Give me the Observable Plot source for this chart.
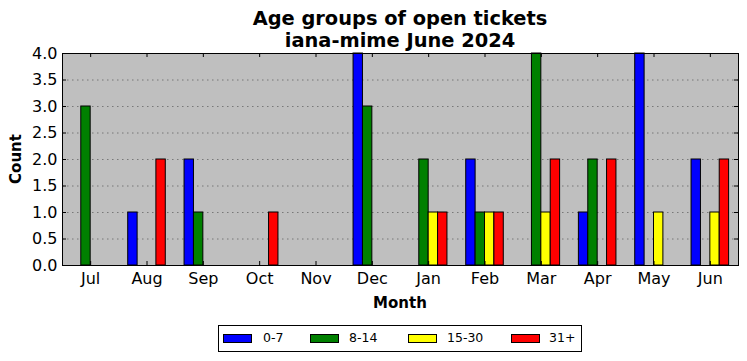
<!DOCTYPE html>
<html>
<head>
<meta charset="utf-8">
<script src="https://cdn.jsdelivr.net/npm/d3@7"></script>
<script src="https://cdn.jsdelivr.net/npm/@observablehq/plot@0.6"></script>
<style>
  html, body { margin: 0; padding: 0; background: #fff; }
  body { width: 747px; height: 361px; position: relative; overflow: hidden; font-family: "DejaVu Sans", sans-serif; color: #000; }
  #chart { position: absolute; left: 0; top: 0; }
  .title { position: absolute; left: 62px; width: 676px; text-align: center; font-weight: bold; font-size: 19.4px; line-height: 22px; top: 8px; }
  .ylabel { position: absolute; left: 16px; top: 159px; transform: translate(-50%, -50%) rotate(-90deg); font-weight: bold; font-size: 15px; white-space: nowrap; }
  .xlabel { position: absolute; left: 400px; top: 303px; transform: translate(-50%, -50%); font-weight: bold; font-size: 15px; }
  .legend { position: absolute; left: 218px; top: 325px; width: 362px; height: 25px; border: 1px solid #000; box-sizing: content-box; }
  .sw { position: absolute; top: 8px; width: 27px; height: 7px; border: 1px solid #000; }
  .lt { position: absolute; top: 4px; font-size: 12.5px; line-height: 16px; white-space: nowrap; }
</style>
</head>
<body>
<div id="chart"></div>
<div class="title">Age groups of open tickets<br>iana-mime June 2024</div>
<div class="ylabel">Count</div>
<div class="xlabel">Month</div>
<div class="legend" id="legend"></div>
<script>
const months = ["Jul","Aug","Sep","Oct","Nov","Dec","Jan","Feb","Mar","Apr","May","Jun"];
const seriesNames = ["0-7","8-14","15-30","31+"];
const seriesColors = ["#0000ff","#008000","#ffff00","#ff0000"];
const age0to7   = [0,1,2,0,0,4,0,2,0,1,4,2];
const age8to14  = [3,0,1,0,0,3,2,1,4,2,0,0];
const age15to30 = [0,0,0,0,0,0,1,1,1,0,1,1];
const age31plus = [0,2,0,1,0,0,1,1,2,2,0,2];
const yTicks = [0,0.5,1,1.5,2,2.5,3,3.5,4];

const seriesValues = [age0to7, age8to14, age15to30, age31plus];
const table = [];
months.forEach((m, i) => {
  seriesNames.forEach((s, k) => {
    table.push({i, k, series: s, value: seriesValues[k][i]});
  });
});

const W = 747, H = 361, mT = 53, mB = 96, mL = 62, mR = 9;
const plotW = W - mL - mR, plotH = H - mT - mB;
const xMin = -0.5, xMax = months.length - 0.5, yMax = 4;
const tickPx = 4;
const tx = tickPx * (xMax - xMin) / plotW;
const ty = tickPx * yMax / plotH;
const barW = 1 / 6;

const chart = Plot.plot({
  width: W, height: H,
  marginTop: mT, marginBottom: mB, marginLeft: mL, marginRight: mR,
  style: {color: "#000", fontFamily: "DejaVu Sans, sans-serif", background: "transparent"},
  x: {domain: [xMin, xMax], axis: null, label: null},
  y: {domain: [0, yMax], axis: null, label: null},
  color: {domain: seriesNames, range: seriesColors},
  marks: [
    Plot.frame({fill: "#bfbfbf", stroke: null}),
    Plot.gridY(yTicks, {stroke: "#666", strokeOpacity: 1, strokeWidth: 0.8, strokeDasharray: "1.5,3.5"}),
    Plot.rectY(table, {
      x1: d => d.i + (d.k - 2) * barW,
      x2: d => d.i + (d.k - 1) * barW,
      y1: 0, y2: "value",
      fill: "series", stroke: "#000", strokeWidth: 1
    }),
    Plot.ruleX(d3.range(months.length), {x: d => d, y1: 0, y2: ty, stroke: "#000"}),
    Plot.ruleX(d3.range(months.length), {x: d => d, y1: yMax - ty, y2: yMax, stroke: "#000"}),
    Plot.ruleY(yTicks, {y: d => d, x1: xMin, x2: xMin + tx, stroke: "#000"}),
    Plot.ruleY(yTicks, {y: d => d, x1: xMax - tx, x2: xMax, stroke: "#000"}),
    Plot.frame({stroke: "#000", strokeWidth: 1}),
    Plot.axisX(d3.range(months.length), {tickFormat: i => months[i], tickSize: 0, tickPadding: 7, fontSize: 16, fill: "#000", label: null}),
    Plot.axisY(yTicks, {tickFormat: d3.format(".1f"), tickSize: 0, tickPadding: 5, fontSize: 16, fill: "#000", label: null})
  ]
});
document.getElementById("chart").appendChild(chart);

const legendPos = [[4, 44], [91, 130], [189, 228], [292, 330]];
const legend = document.getElementById("legend");
seriesNames.forEach((s, k) => {
  const sw = document.createElement("div");
  sw.className = "sw";
  sw.style.left = legendPos[k][0] + "px";
  sw.style.background = seriesColors[k];
  legend.appendChild(sw);
  const t = document.createElement("div");
  t.className = "lt";
  t.style.left = legendPos[k][1] + "px";
  t.textContent = s;
  legend.appendChild(t);
});
</script>
</body>
</html>
